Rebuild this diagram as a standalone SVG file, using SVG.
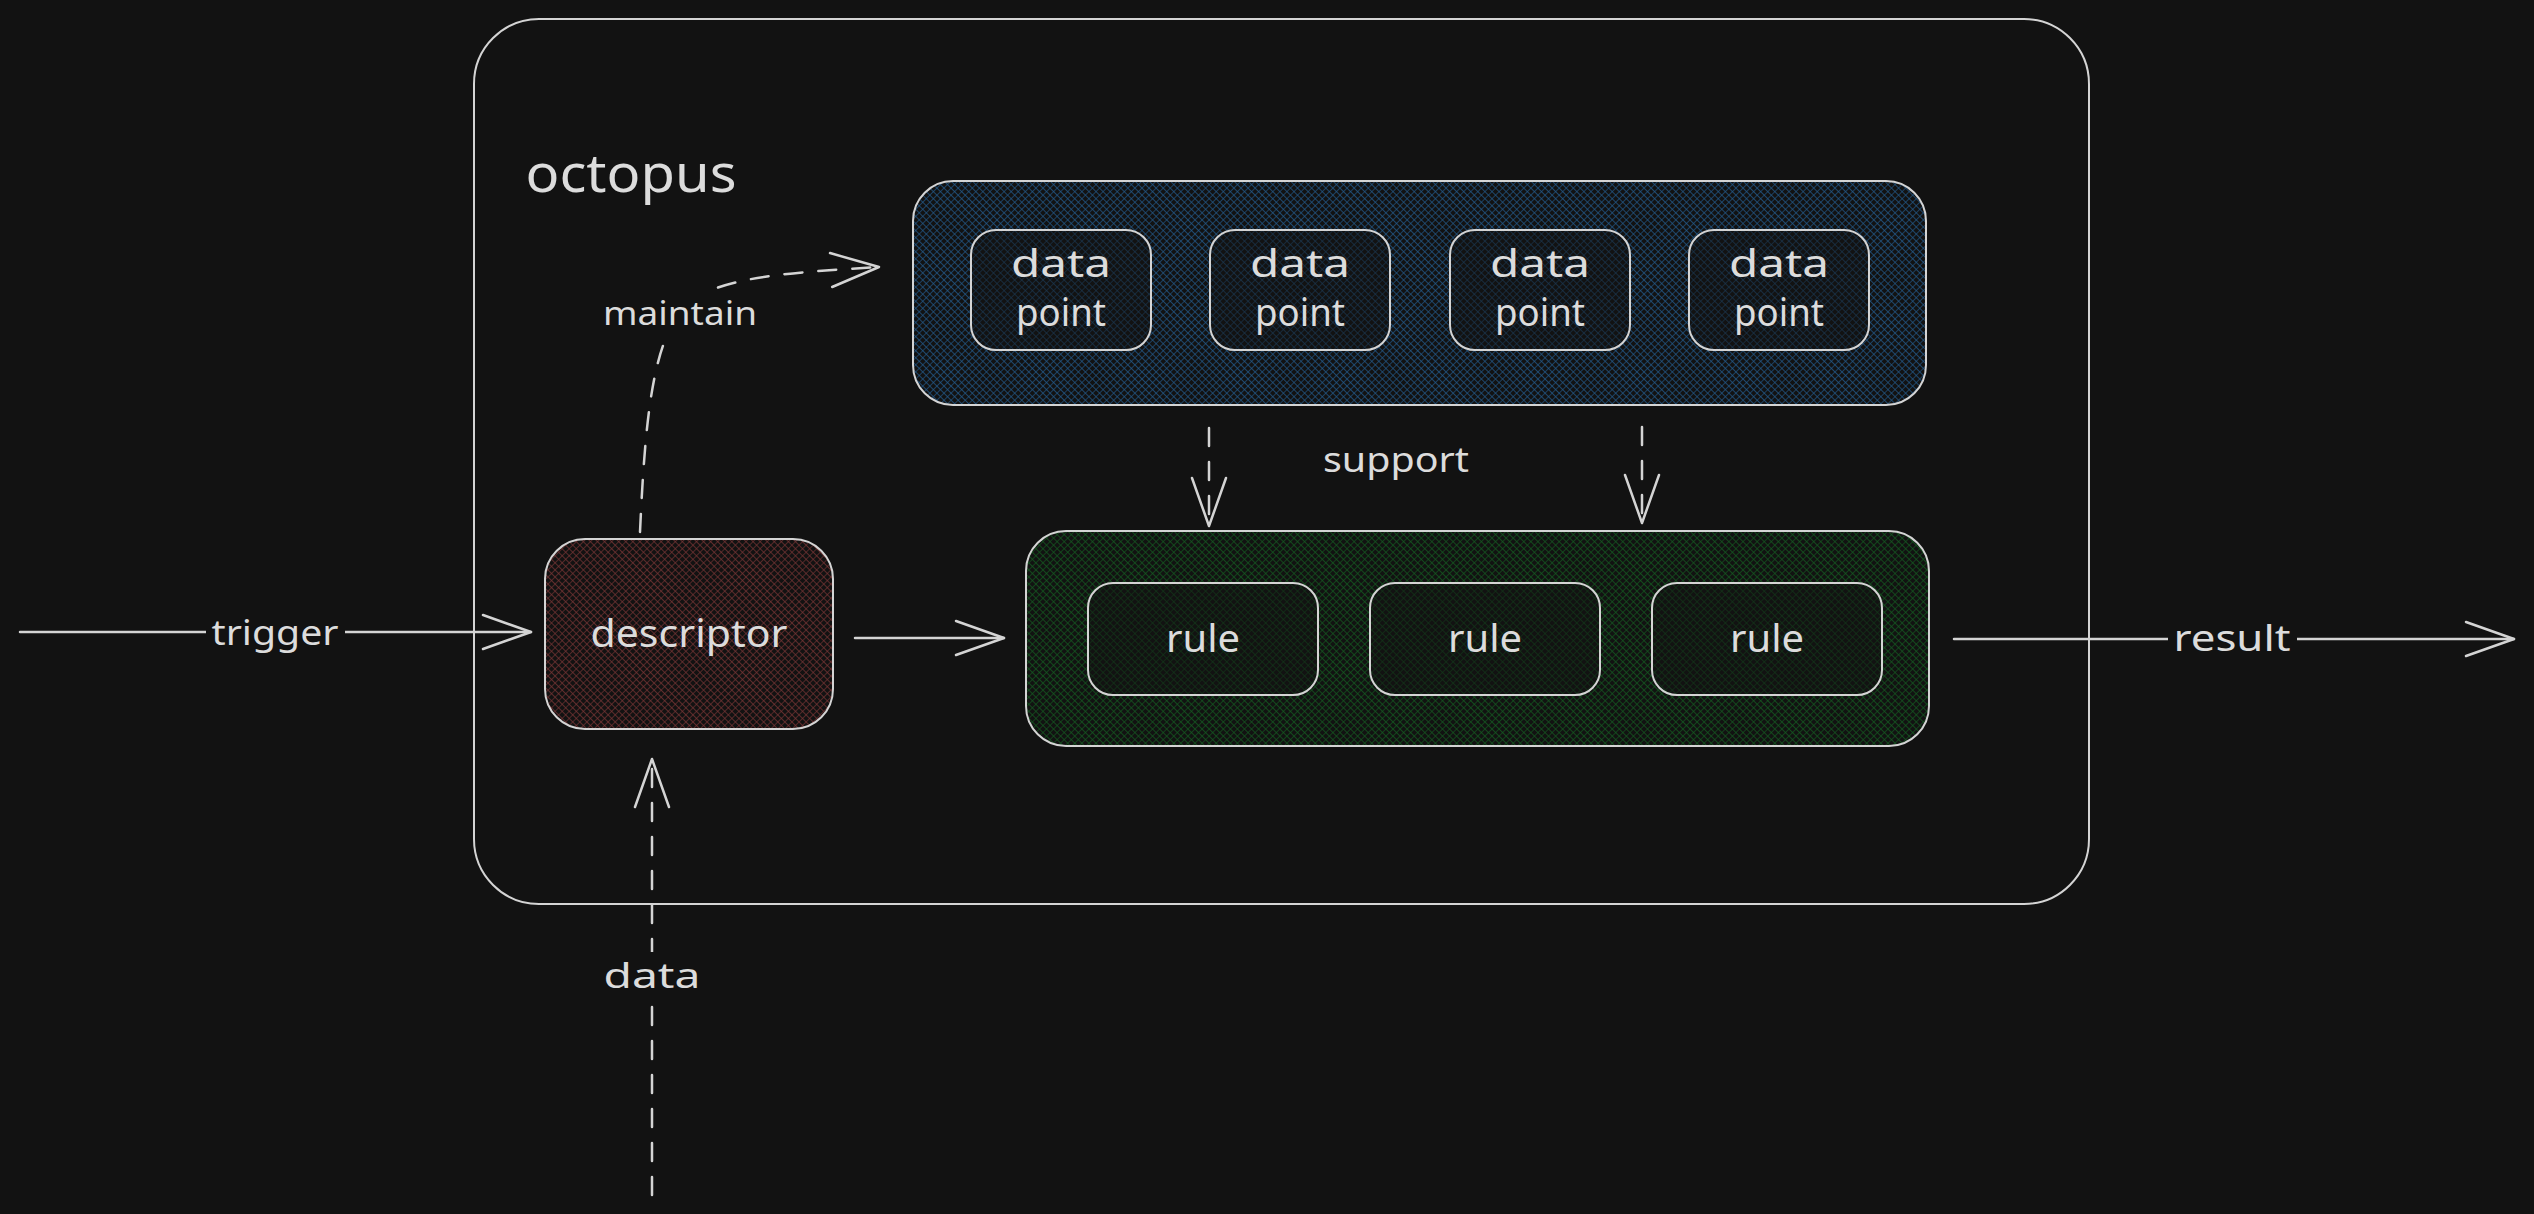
<svg xmlns="http://www.w3.org/2000/svg" width="2534" height="1214" viewBox="0 0 2534 1214">
  <defs>
    <pattern id="hatchBlue" patternUnits="userSpaceOnUse" width="5" height="5" patternTransform="rotate(45)">
      <path d="M0,0 L5,0 M0,0 L0,5" stroke="#22598a" stroke-width="1.3" fill="none"/>
    </pattern>
    <pattern id="hatchRed" patternUnits="userSpaceOnUse" width="5" height="5" patternTransform="rotate(45)">
      <path d="M0,0 L5,0 M0,0 L0,5" stroke="#763434" stroke-width="1.3" fill="none"/>
    </pattern>
    <pattern id="hatchGreen" patternUnits="userSpaceOnUse" width="5" height="5" patternTransform="rotate(45)">
      <path d="M0,0 L5,0 M0,0 L0,5" stroke="#135a20" stroke-width="1.3" fill="none"/>
    </pattern>
    <marker id="arrow" markerUnits="userSpaceOnUse" markerWidth="60" markerHeight="40" viewBox="-55 -20 60 40" refX="0" refY="0" orient="auto" overflow="visible">
      <path d="M-48,-17 L0,0 L-48,17" fill="none" stroke="#d4d4d4" stroke-width="2.5" stroke-linecap="round" stroke-linejoin="round" stroke-dasharray="none"/>
    </marker>
  </defs>
  <style>
    .box { fill: none; stroke: #d4d4d4; stroke-width: 2; }
    .inner { fill: #121212; fill-opacity: 0.5; stroke: #d4d4d4; stroke-width: 2; }
    .lbl { font-family: "Noto Sans", "Liberation Sans", sans-serif; fill: #dcdcdc; text-anchor: middle; }
    .conn { fill: none; stroke: #d4d4d4; stroke-width: 2.5; stroke-linecap: round; }
    .dash { stroke-dasharray: 18 16; }
    .mask { fill: #121212; }
  </style>
  <rect x="0" y="0" width="2534" height="1214" fill="#121212"/>

  <g id="octopus">
    <rect class="box" x="474" y="19" width="1615" height="885" rx="65" ry="65"/>
    <text class="lbl" x="631" y="192" font-size="52" textLength="211" lengthAdjust="spacingAndGlyphs">octopus</text>
  </g>

  <g id="datapoints">
    <rect x="913" y="181" width="1013" height="224" rx="40" ry="40" fill="url(#hatchBlue)" stroke="#d4d4d4" stroke-width="2"/>
  </g>
  <g id="dp1">
    <rect class="inner" x="971" y="230" width="180" height="120" rx="25" ry="25"/>
    <text class="lbl" x="1061" y="277" font-size="38" textLength="100" lengthAdjust="spacingAndGlyphs">data</text>
    <text class="lbl" x="1061" y="326" font-size="38" textLength="90" lengthAdjust="spacingAndGlyphs">point</text>
  </g>
  <g id="dp2">
    <rect class="inner" x="1210" y="230" width="180" height="120" rx="25" ry="25"/>
    <text class="lbl" x="1300" y="277" font-size="38" textLength="100" lengthAdjust="spacingAndGlyphs">data</text>
    <text class="lbl" x="1300" y="326" font-size="38" textLength="90" lengthAdjust="spacingAndGlyphs">point</text>
  </g>
  <g id="dp3">
    <rect class="inner" x="1450" y="230" width="180" height="120" rx="25" ry="25"/>
    <text class="lbl" x="1540" y="277" font-size="38" textLength="100" lengthAdjust="spacingAndGlyphs">data</text>
    <text class="lbl" x="1540" y="326" font-size="38" textLength="90" lengthAdjust="spacingAndGlyphs">point</text>
  </g>
  <g id="dp4">
    <rect class="inner" x="1689" y="230" width="180" height="120" rx="25" ry="25"/>
    <text class="lbl" x="1779" y="277" font-size="38" textLength="100" lengthAdjust="spacingAndGlyphs">data</text>
    <text class="lbl" x="1779" y="326" font-size="38" textLength="90" lengthAdjust="spacingAndGlyphs">point</text>
  </g>

  <g id="rules">
    <rect x="1026" y="531" width="903" height="215" rx="40" ry="40" fill="url(#hatchGreen)" stroke="#d4d4d4" stroke-width="2"/>
  </g>
  <g id="rule1">
    <rect class="inner" x="1088" y="583" width="230" height="112" rx="25" ry="25"/>
    <text class="lbl" x="1203" y="652" font-size="38" textLength="74" lengthAdjust="spacingAndGlyphs">rule</text>
  </g>
  <g id="rule2">
    <rect class="inner" x="1370" y="583" width="230" height="112" rx="25" ry="25"/>
    <text class="lbl" x="1485" y="652" font-size="38" textLength="74" lengthAdjust="spacingAndGlyphs">rule</text>
  </g>
  <g id="rule3">
    <rect class="inner" x="1652" y="583" width="230" height="112" rx="25" ry="25"/>
    <text class="lbl" x="1767" y="652" font-size="38" textLength="74" lengthAdjust="spacingAndGlyphs">rule</text>
  </g>

  <g id="descriptor">
    <rect x="545" y="539" width="288" height="190" rx="40" ry="40" fill="url(#hatchRed)" stroke="#d4d4d4" stroke-width="2"/>
    <text class="lbl" x="689" y="647" font-size="38" textLength="197" lengthAdjust="spacingAndGlyphs">descriptor</text>
  </g>

  <g id="connectors">
    <!-- trigger -->
    <path class="conn" d="M20,632 L531,632" marker-end="url(#arrow)"/>
    <rect class="mask" x="206" y="608" width="139" height="48"/>
    <text class="lbl" x="275" y="645" font-size="34" textLength="127" lengthAdjust="spacingAndGlyphs">trigger</text>

    <!-- descriptor to rules -->
    <path class="conn" d="M855,638 L1004,638" marker-end="url(#arrow)"/>

    <!-- result -->
    <path class="conn" d="M1954,639 L2514,639" marker-end="url(#arrow)"/>
    <rect class="mask" x="2168" y="612" width="129" height="48"/>
    <text class="lbl" x="2232" y="651" font-size="36" textLength="117" lengthAdjust="spacingAndGlyphs">result</text>

    <!-- support -->
    <path class="conn dash" d="M1209,428 L1209,526" marker-end="url(#arrow)"/>
    <path class="conn dash" d="M1642,427 L1642,523" marker-end="url(#arrow)"/>
    <text class="lbl" x="1396" y="472" font-size="34" textLength="146" lengthAdjust="spacingAndGlyphs">support</text>

    <!-- maintain -->
    <path class="conn dash" d="M640,532 C646,400 655,320 700,295 C740,275 800,272 879,267" marker-end="url(#arrow)"/>
    <rect class="mask" x="597" y="292" width="166" height="46"/>
    <text class="lbl" x="680" y="325" font-size="32" textLength="154" lengthAdjust="spacingAndGlyphs">maintain</text>

    <!-- data -->
    <path class="conn dash" d="M652,1195 L652,759" marker-end="url(#arrow)"/>
    <rect class="mask" x="597" y="952" width="110" height="52"/>
    <text class="lbl" x="652" y="988" font-size="34" textLength="97" lengthAdjust="spacingAndGlyphs">data</text>
  </g>
</svg>
